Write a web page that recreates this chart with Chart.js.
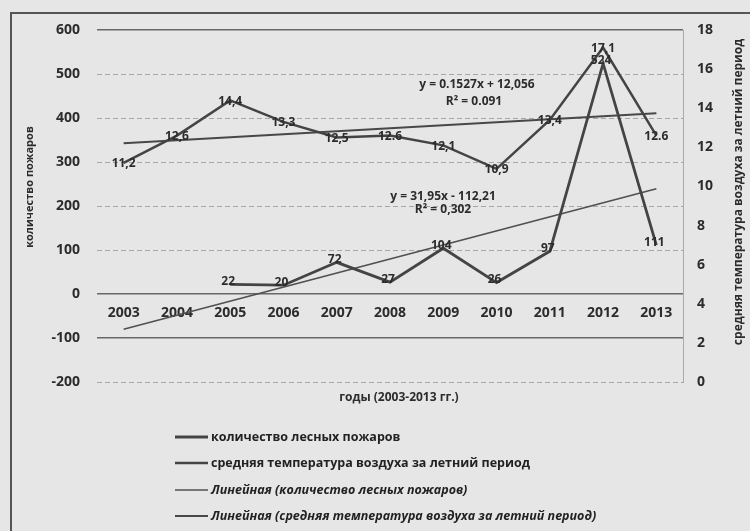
<!DOCTYPE html>
<html lang="ru">
<head>
<meta charset="utf-8">
<script src="https://cdn.jsdelivr.net/npm/chart.js@4.4.1/dist/chart.umd.min.js"></script>
<style>
  html, body { margin: 0; padding: 0; background: #e6e6e6; }
  #wrap { position: relative; width: 750px; height: 531px; }
</style>
</head>
<body>
<div id="wrap"><canvas id="chart" width="750" height="531"></canvas></div>
<script>
// Данные графика: лесные пожары и средняя летняя температура, 2003-2013
const years = ['2003', '2004', '2005', '2006', '2007', '2008', '2009', '2010', '2011', '2012', '2013'];
const fires = [null, null, 22, 20, 72, 27, 104, 26, 97, 524, 111];
const temps = [11.2, 12.6, 14.4, 13.3, 12.5, 12.6, 12.1, 10.9, 13.4, 17.1, 12.6];
const tempLabels = ['11,2', '12,6', '14,4', '13,3', '12,5', '12.6', '12,1', '10,9', '13,4', '17,1', '12.6'];

// Линии тренда: только концы (2003 и 2013), как на рисунке
const firesTrend = [-80.3, null, null, null, null, null, null, null, null, null, 239.3];
const tempTrend = [12.21, null, null, null, null, null, null, null, null, null, 13.74];

const seriesNames = [
    'количество лесных пожаров',
    'средняя температура воздуха за летний период',
    'Линейная (количество лесных пожаров)',
    'Линейная (средняя температура воздуха за летний период)'
];
const equations = [
    ['y = 0.1527x + 12,056', 'R² = 0.091'],
    ['y = 31,95x - 112,21', 'R² = 0,302']
];
const leftTitle = 'количество пожаров';
const rightTitle = 'средняя температура воздуха за летний период';
const xTitle = 'годы (2003-2013 гг.)';

const solidGrid = [600, 0, -100];
const ink = '#2c2c2c';
const lineInk = '#444';
const font = '"Open Sans", "DejaVu Sans", sans-serif';

// фон, рамка, подписи данных, уравнения, заголовки осей и легенда
const decorPlugin = {
    id: 'decor',
    beforeDraw(chart) {
        const ctx = chart.ctx;
        ctx.save();
        ctx.fillStyle = '#e6e6e6';
        ctx.fillRect(0, 0, chart.width, chart.height);
        ctx.strokeStyle = '#555';
        ctx.lineWidth = 2;
        ctx.beginPath();
        ctx.moveTo(chart.width, 13);
        ctx.lineTo(11, 13);
        ctx.lineTo(11, chart.height);
        ctx.stroke();
        ctx.restore();
    },
    afterDatasetsDraw(chart) {
        const ctx = chart.ctx;
        ctx.save();
        ctx.fillStyle = ink;
        ctx.font = 'bold 12px ' + font;
        ctx.textAlign = 'center';
        ctx.textBaseline = 'middle';

        const firesMeta = chart.getDatasetMeta(0);
        fires.forEach((v, i) => {
            if (v === null) return;
            const p = firesMeta.data[i];
            ctx.fillText(String(v), p.x - 2, p.y - 3);
        });

        const tempMeta = chart.getDatasetMeta(1);
        tempLabels.forEach((t, i) => {
            const p = tempMeta.data[i];
            ctx.fillText(t, p.x, p.y + 1);
        });
        ctx.restore();
    },
    afterDraw(chart) {
        const ctx = chart.ctx;
        const area = chart.chartArea;
        ctx.save();
        ctx.fillStyle = ink;
        ctx.textBaseline = 'middle';
        ctx.textAlign = 'center';

        // уравнения трендов
        ctx.font = 'bold 12px ' + font;
        ctx.fillText(equations[0][0], 477, 85);
        ctx.fillText(equations[0][1], 474, 102);
        ctx.fillText(equations[1][0], 443, 197);
        ctx.fillText(equations[1][1], 443, 210);

        // подпись оси X
        ctx.fillText(xTitle, (area.left + area.right) / 2 + 9, 398);

        // подписи вертикальных осей
        ctx.save();
        ctx.translate(30, 187);
        ctx.rotate(-Math.PI / 2);
        ctx.font = 'bold 11px ' + font;
        ctx.fillText(leftTitle, 0, 0);
        ctx.restore();

        ctx.save();
        ctx.translate(739, 192);
        ctx.rotate(-Math.PI / 2);
        ctx.font = 'bold 12px ' + font;
        ctx.fillText(rightTitle, 0, 0);
        ctx.restore();

        // легенда столбиком
        ctx.textAlign = 'left';
        const rows = [437, 463, 490, 516];
        chart.data.datasets.forEach((ds, i) => {
            const y = rows[i];
            ctx.strokeStyle = ds.borderColor;
            ctx.lineWidth = ds.borderWidth;
            ctx.beginPath();
            ctx.moveTo(175, y);
            ctx.lineTo(208, y);
            ctx.stroke();
            ctx.font = (i > 1 ? 'italic ' : '') + 'bold 12.5px ' + font;
            ctx.fillStyle = '#222';
            ctx.fillText(ds.label, 211, y);
        });
        ctx.restore();
    }
};

const ctx = document.getElementById('chart').getContext('2d');
new Chart(ctx, {
    type: 'line',
    data: {
        labels: years,
        datasets: [{
            label: seriesNames[0],
            data: fires,
            yAxisID: 'y',
            borderColor: lineInk,
            borderWidth: 2.8,
            pointRadius: 0,
            tension: 0
        }, {
            label: seriesNames[1],
            data: temps,
            yAxisID: 'y1',
            borderColor: lineInk,
            borderWidth: 2.5,
            pointRadius: 0,
            tension: 0
        }, {
            label: seriesNames[2],
            data: firesTrend,
            yAxisID: 'y',
            borderColor: '#505050',
            borderWidth: 1.6,
            pointRadius: 0,
            spanGaps: true
        }, {
            label: seriesNames[3],
            data: tempTrend,
            yAxisID: 'y1',
            borderColor: '#484848',
            borderWidth: 2,
            pointRadius: 0,
            spanGaps: true
        }]
    },
    options: {
        responsive: false,
        animation: false,
        layout: {
            padding: { left: 0, right: 0, top: 30, bottom: 149 }
        },
        scales: {
            x: {
                type: 'category',
                position: { y: 0 },
                offset: true,
                grid: { display: false, drawTicks: false },
                border: { display: false },
                ticks: {
                    color: ink,
                    padding: 11,
                    maxRotation: 0,
                    font: { family: font, size: 14, weight: 'bold' }
                }
            },
            y: {
                position: 'left',
                min: -200,
                max: 600,
                afterFit: axis => { axis.width = 97; },
                ticks: {
                    stepSize: 100,
                    color: ink,
                    padding: 17,
                    font: { family: font, size: 14, weight: 'bold' }
                },
                grid: {
                    drawTicks: false,
                    color: c => (c.tick && solidGrid.includes(c.tick.value)) ? '#686868' : '#a6a6a6',
                    lineWidth: c => (c.tick && solidGrid.includes(c.tick.value)) ? 1.5 : 1
                },
                border: {
                    display: false,
                    dash: c => (c.tick && solidGrid.includes(c.tick.value)) ? [] : [5, 3]
                }
            },
            y1: {
                position: 'right',
                min: 0,
                max: 18,
                afterFit: axis => { axis.width = 67; },
                ticks: {
                    stepSize: 2,
                    color: ink,
                    padding: 14,
                    font: { family: font, size: 14, weight: 'bold' }
                },
                grid: { drawOnChartArea: false, drawTicks: false },
                border: { display: true, color: '#aaa', width: 1 }
            }
        },
        plugins: {
            legend: { display: false },
            tooltip: { enabled: false }
        }
    },
    plugins: [decorPlugin]
});
</script>
</body>
</html>
